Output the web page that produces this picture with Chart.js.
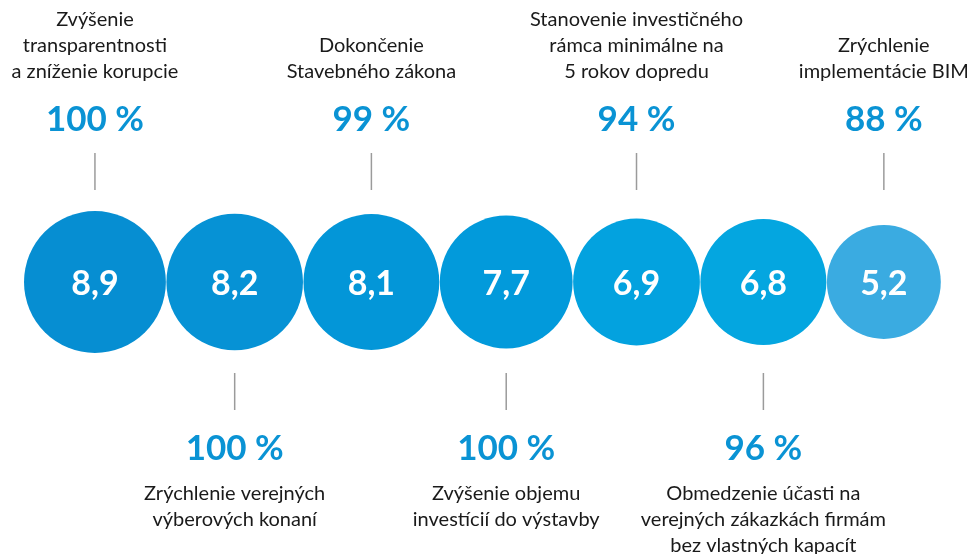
<!DOCTYPE html>
<html>
<head>
  <meta charset="utf-8">
  <meta name="viewport" content="width=device-width, initial-scale=1.0">
  <title>Bubliny – hodnotenie opatrení</title>
  <script src="https://cdn.jsdelivr.net/npm/chart.js"></script>
  <style>
    body { margin: 0; padding: 0; background: #fff; }
    #wrap { width: 973px; height: 554px; }
  </style>
</head>
<body>
  <div id="wrap"><canvas id="myChart"></canvas></div>

  <script>
    // data
    const opatrenia = [
      ['Zvýšenie', 'transparentnosti', 'a zníženie korupcie'],
      ['Zrýchlenie verejných', 'výberových konaní'],
      ['Dokončenie', 'Stavebného zákona'],
      ['Zvýšenie objemu', 'investícií do výstavby'],
      ['Stanovenie investičného', 'rámca minimálne na', '5 rokov dopredu'],
      ['Obmedzenie účasti na', 'verejných zákazkách firmám', 'bez vlastných kapacít'],
      ['Zrýchlenie', 'implementácie BIM']
    ];
    const hodnotenie = [8.9, 8.2, 8.1, 7.7, 6.9, 6.8, 5.2];
    const podpora = [100, 100, 99, 100, 94, 96, 88];
    const farby = ['#068ed2', '#0692d5', '#0396d8', '#029adb', '#03a2df', '#04a6e0', '#3aabe1'];

    // polomer bubliny podla hodnoty, bubliny sa dotykaju
    const polomer = v => 37.3 + 3.78 * v;
    const stredY = 282;
    let xx = 24;
    const body = hodnotenie.map((v, i) => {
      const r = polomer(v);
      const x = xx + r;
      xx = x + r + 0.5;
      return { x: x, y: stredY, r: r };
    });

    const font = "'Source Sans Pro', Lato, 'Noto Sans', sans-serif";

    const popisky = {
      id: 'popisky',
      afterDatasetsDraw(chart) {
        const c = chart.ctx;
        const sx = chart.scales.x, sy = chart.scales.y;
        c.save();
        c.textAlign = 'center';
        c.textBaseline = 'middle';
        body.forEach((b, i) => {
          const x = sx.getPixelForValue(b.x);
          const y = sy.getPixelForValue(b.y);
          // hodnota v bubline
          c.fillStyle = '#fff';
          c.font = 'bold 34px ' + font;
          c.fillText(hodnotenie[i].toFixed(1).replace('.', ','), x, y + 2);

          const hore = i % 2 === 0;
          const riadky = opatrenia[i];
          // spojovacia ciara
          c.strokeStyle = '#9b9b9b';
          c.lineWidth = 1.5;
          c.beginPath();
          if (hore) { c.moveTo(x, 153); c.lineTo(x, 190); }
          else { c.moveTo(x, 373); c.lineTo(x, 410); }
          c.stroke();
          // percento
          c.fillStyle = '#0a93d4';
          c.font = 'bold 35px ' + font;
          c.fillText(podpora[i] + ' %', x, hore ? 120 : 449);
          // text
          c.fillStyle = '#1a1a1a';
          c.font = '20px ' + font;
          riadky.forEach((t, k) => {
            const ty = hore ? 72 - (riadky.length - 1 - k) * 26 : 494 + k * 26;
            c.fillText(t, x, ty);
          });
        });
        c.restore();
      }
    };

    const ctx = document.getElementById('myChart').getContext('2d');
    const chart = new Chart(ctx, {
      type: 'bubble',
      data: {
        datasets: [{
          data: body,
          backgroundColor: farby,
          borderWidth: 0,
          hoverBorderWidth: 0
        }]
      },
      options: {
        responsive: true,
        maintainAspectRatio: false,
        animation: false,
        layout: { padding: 0, autoPadding: false },
        plugins: { legend: { display: false }, tooltip: { enabled: false } },
        scales: {
          x: { type: 'linear', min: 0, max: 973, display: false },
          y: { type: 'linear', min: 0, max: 554, reverse: true, display: false }
        }
      },
      plugins: [popisky]
    });
  </script>
</body>
</html>
